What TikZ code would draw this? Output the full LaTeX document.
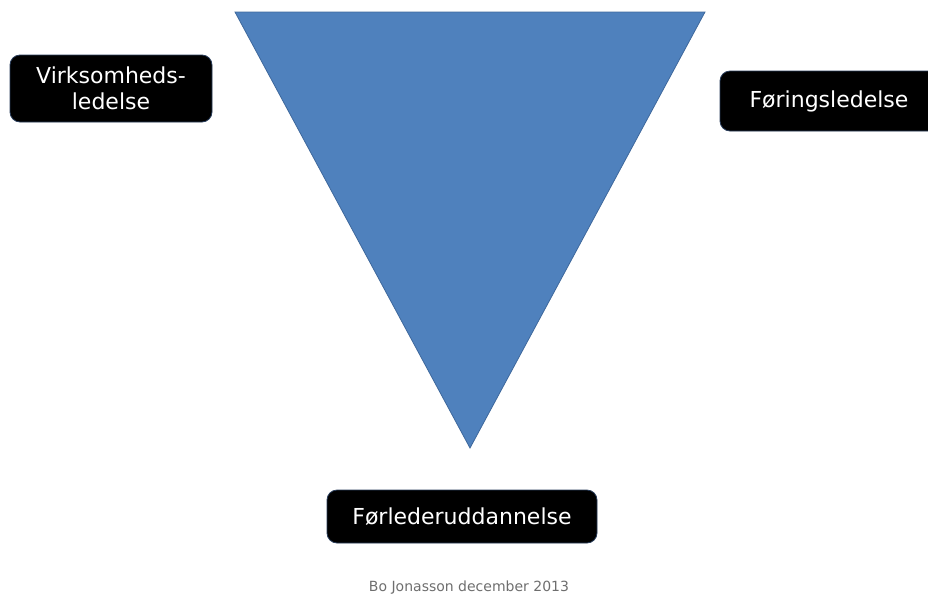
\documentclass[tikz,border=0pt]{standalone}
\usepackage{fontspec}
\setmainfont{DejaVu Sans}
\usepackage{tikz}
\usetikzlibrary{positioning}
\definecolor{triblue}{RGB}{79, 129, 189}
\definecolor{triedge}{RGB}{62, 104, 156}
\definecolor{boxedge}{RGB}{40, 60, 90}
\definecolor{footgray}{RGB}{110, 110, 110}

\begin{document}
\begin{tikzpicture}[
    x=0.5pt, y=-0.5pt,
    tag/.style={draw=boxedge, fill=black, rounded corners=5pt, text=white,
                align=center, font=\fontsize{11}{13}\selectfont,
                inner sep=0pt},
    foot/.style={font=\fontsize{7}{8}\selectfont, text=footgray},
]
\useasboundingbox (0,0) rectangle (928,596);

% --- Triangle ---
\coordinate (tl) at (235,12);
\coordinate (tr) at (705,12);
\coordinate (tb) at (470,448);
\fill[triblue, draw=triedge, line width=0.4pt] (tl) -- (tr) -- (tb) -- cycle;

% --- Labels ---
\node[tag, minimum width=101pt, minimum height=33.5pt] (virk) at (111,88.5)
    {Virksomheds-\\ledelse};
\node[tag, minimum width=109pt, minimum height=30pt] (foer) at (829,101)
    {Føringsledelse};
\node[tag, minimum width=135pt, minimum height=26.5pt] (fuu) at (462,516.5)
    {Førlederuddannelse};

% --- Footer ---
\node[foot] (sign) at (469,588) {Bo Jonasson december 2013};

\end{tikzpicture}
\end{document}
